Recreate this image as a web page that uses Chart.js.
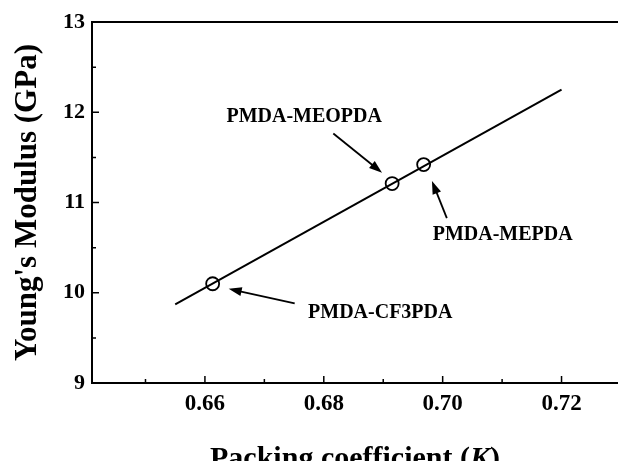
<!DOCTYPE html>
<html>
<head>
<meta charset="utf-8">
<script src="https://cdn.jsdelivr.net/npm/chart.js@4/dist/chart.umd.min.js"></script>
<style>
  html, body { margin: 0; padding: 0; background: #fff; overflow: hidden; }
  #wrap { width: 618px; height: 461px; }
</style>
</head>
<body>
<div id="wrap"><canvas id="c" width="618" height="461"></canvas></div>
<script>
// ---- data ----
const packing = [0.6613, 0.6915, 0.6968];          // packing coefficient K
const modulus = [10.10, 11.21, 11.42];             // Young's modulus (GPa)
const fitX = [0.655, 0.720];                       // linear fit end points
const fitY = [9.87, 12.25];
const xMajorTicks = [0.66, 0.68, 0.70, 0.72];
const xMinorTicks = [0.65, 0.67, 0.69, 0.71];
const yMajorTicks = [9, 10, 11, 12, 13];
const yMinorTicks = [9.5, 10.5, 11.5, 12.5];
const annotationLabels = ['PMDA-MEOPDA', 'PMDA-MEPDA', 'PMDA-CF3PDA'];
const labelX = [0.6767, 0.7101, 0.6895];
const labelY = [11.95, 10.645, 9.775];
const arrowFromX = [0.6816, 0.7007, 0.6751];
const arrowFromY = [11.764, 10.827, 9.882];
const arrowToX = [0.6898, 0.6982, 0.6640];
const arrowToY = [11.33, 11.238, 10.044];
const xTitle = ['Packing coefficient (', 'K', ')'];
const yTitle = "Young's Modulus (GPa)";

const FONT = "'Liberation Serif', 'Times New Roman', serif";

const decor = {
  id: 'decor',
  afterDraw(chart) {
    const ctx = chart.ctx;
    const a = chart.chartArea;
    const xs = chart.scales.x, ys = chart.scales.y;
    ctx.save();
    ctx.strokeStyle = '#000';
    ctx.fillStyle = '#000';
    // frame (left, bottom, top)
    ctx.lineWidth = 2;
    ctx.beginPath();
    ctx.moveTo(chart.width + 2, a.top);
    ctx.lineTo(a.left, a.top);
    ctx.lineTo(a.left, a.bottom);
    ctx.lineTo(chart.width + 2, a.bottom);
    ctx.stroke();
    // ticks (inward)
    ctx.lineWidth = 1.5;
    ctx.beginPath();
    xMajorTicks.forEach(v => { const p = xs.getPixelForValue(v); ctx.moveTo(p, a.bottom); ctx.lineTo(p, a.bottom - 7); });
    xMinorTicks.forEach(v => { const p = xs.getPixelForValue(v); ctx.moveTo(p, a.bottom); ctx.lineTo(p, a.bottom - 4); });
    yMajorTicks.forEach(v => { const p = ys.getPixelForValue(v); ctx.moveTo(a.left, p); ctx.lineTo(a.left + 7, p); });
    yMinorTicks.forEach(v => { const p = ys.getPixelForValue(v); ctx.moveTo(a.left, p); ctx.lineTo(a.left + 4, p); });
    ctx.stroke();
    // annotation labels
    ctx.font = 'bold 20px ' + FONT;
    ctx.textAlign = 'center';
    ctx.textBaseline = 'middle';
    annotationLabels.forEach((t, i) => {
      ctx.fillText(t, xs.getPixelForValue(labelX[i]), ys.getPixelForValue(labelY[i]));
    });
    // arrows
    annotationLabels.forEach((t, i) => {
      const x1 = xs.getPixelForValue(arrowFromX[i]), y1 = ys.getPixelForValue(arrowFromY[i]);
      const x2 = xs.getPixelForValue(arrowToX[i]), y2 = ys.getPixelForValue(arrowToY[i]);
      const ang = Math.atan2(y2 - y1, x2 - x1);
      const hl = 13, hw = 4.5;
      ctx.lineWidth = 1.8;
      ctx.beginPath();
      ctx.moveTo(x1, y1);
      ctx.lineTo(x2 - Math.cos(ang) * hl * 0.8, y2 - Math.sin(ang) * hl * 0.8);
      ctx.stroke();
      ctx.beginPath();
      ctx.moveTo(x2, y2);
      ctx.lineTo(x2 - Math.cos(ang) * hl + Math.sin(ang) * hw, y2 - Math.sin(ang) * hl - Math.cos(ang) * hw);
      ctx.lineTo(x2 - Math.cos(ang) * hl - Math.sin(ang) * hw, y2 - Math.sin(ang) * hl + Math.cos(ang) * hw);
      ctx.closePath();
      ctx.fill();
    });
    // x title with italic K
    const f1 = 'bold 30px ' + FONT, f2 = 'italic bold 30px ' + FONT;
    ctx.textAlign = 'left';
    ctx.textBaseline = 'alphabetic';
    ctx.font = f1; const w0 = ctx.measureText(xTitle[0]).width, w2 = ctx.measureText(xTitle[2]).width;
    ctx.font = f2; const w1 = ctx.measureText(xTitle[1]).width;
    let tx = (a.left + a.right) / 2 - (w0 + w1 + w2) / 2;
    const ty = 467;
    ctx.font = f1; ctx.fillText(xTitle[0], tx, ty); tx += w0;
    ctx.font = f2; ctx.fillText(xTitle[1], tx, ty); tx += w1;
    ctx.font = f1; ctx.fillText(xTitle[2], tx, ty);
    // y title
    ctx.translate(36, (a.top + a.bottom) / 2);
    ctx.rotate(-Math.PI / 2);
    ctx.font = 'bold 31px ' + FONT;
    ctx.textAlign = 'center';
    ctx.textBaseline = 'alphabetic';
    ctx.fillText(yTitle, 0, 0);
    ctx.restore();
  }
};

new Chart(document.getElementById('c'), {
  type: 'scatter',
  data: {
    datasets: [
      {
        label: 'fit',
        data: fitX.map((x, i) => ({ x: x, y: fitY[i] })),
        showLine: true,
        borderColor: '#000',
        borderWidth: 2,
        pointRadius: 0,
        fill: false
      },
      {
        label: 'samples',
        data: packing.map((x, i) => ({ x: x, y: modulus[i] })),
        pointStyle: 'circle',
        pointRadius: 6.5,
        pointBorderWidth: 1.8,
        pointBorderColor: '#000',
        pointBackgroundColor: 'rgba(0,0,0,0)',
        showLine: false
      }
    ]
  },
  options: {
    responsive: false,
    animation: false,
    events: [],
    layout: { autoPadding: false, padding: { top: 22, right: 0, left: 0, bottom: 0 } },
    plugins: { legend: { display: false }, tooltip: { enabled: false } },
    scales: {
      x: {
        type: 'linear',
        min: 0.641,
        max: 0.7295,
        grid: { display: false, drawTicks: false },
        border: { display: false },
        afterBuildTicks: s => { s.ticks = xMajorTicks.map(v => ({ value: v })); },
        afterFit: s => { s.height = 78; s.paddingRight = 0; s.paddingLeft = 0; },
        ticks: {
          color: '#000',
          padding: 7,
          maxRotation: 0,
          font: { family: FONT, weight: 'bold', size: 23 },
          callback: v => v.toFixed(2)
        }
      },
      y: {
        type: 'linear',
        min: 9,
        max: 13,
        grid: { display: false, drawTicks: false },
        border: { display: false },
        afterBuildTicks: s => { s.ticks = yMajorTicks.map(v => ({ value: v })); },
        afterFit: s => { s.width = 92; s.paddingTop = 0; s.paddingBottom = 0; },
        ticks: {
          color: '#000',
          padding: 7,
          font: { family: FONT, weight: 'bold', size: 22 },
          callback: v => String(v)
        }
      }
    }
  },
  plugins: [decor]
});
</script>
</body>
</html>
